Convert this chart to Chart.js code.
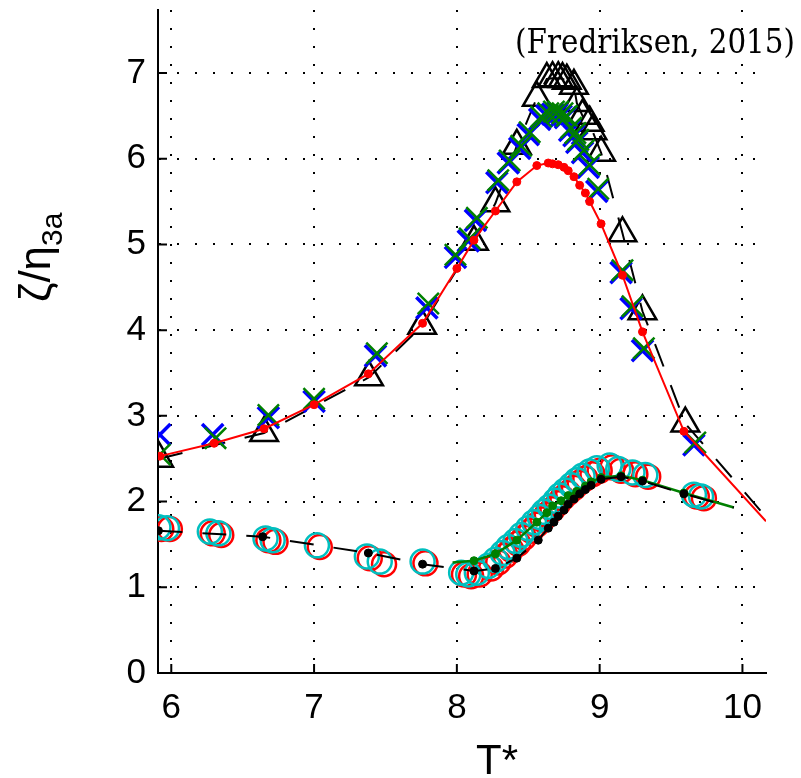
<!DOCTYPE html>
<html>
<head>
<meta charset="utf-8">
<script src="https://cdn.jsdelivr.net/npm/chart.js@4"></script>
<style>
  html, body { margin: 0; padding: 0; background: #fff; }
  canvas { display: block; }
</style>
</head>
<body>
<canvas id="chart" width="801" height="778" style="width:801px;height:778px"></canvas>
<script>
// Axis setup
const xTicks = [6, 7, 8, 9, 10];
const yTicks = [0, 1, 2, 3, 4, 5, 6, 7];
const xRange = [5.907, 10.165];
const yRange = [0, 7.735];
const xTitle = 'T*';
const yTitleMain = 'ζ/η';
const yTitleSub = '3a';
const citation = '(Fredriksen, 2015)';

// Upper curves
// red solid line with dots (last point is line end only)
const redT = [5.92, 6.30, 6.65, 7.00, 7.38, 7.76, 8.00, 8.12, 8.27, 8.42, 8.56, 8.64, 8.67, 8.71, 8.75, 8.78, 8.82, 8.86, 8.90, 8.93, 9.01, 9.16, 9.30, 9.59, 10.165];
const redY = [2.53, 2.68, 2.85, 3.13, 3.49, 4.08, 4.72, 5.05, 5.39, 5.73, 5.92, 5.95, 5.94, 5.93, 5.90, 5.86, 5.79, 5.69, 5.60, 5.50, 5.24, 4.64, 3.98, 2.82, 1.77];

// black dashed line with open triangles (last point is line end only)
const triT = [5.915, 6.65, 7.385, 7.757, 8.12, 8.27, 8.42, 8.56, 8.63, 8.67, 8.71, 8.74, 8.77, 8.82, 8.84, 8.88, 8.93, 8.95, 9.01, 9.16, 9.30, 9.60, 10.165];
const triY = [2.50, 2.80, 3.45, 4.05, 5.03, 5.48, 6.15, 6.71, 6.93, 6.94, 6.94, 6.93, 6.91, 6.85, 6.65, 6.50, 6.42, 6.32, 6.07, 5.13, 4.22, 2.91, 1.82];

// blue crosses
const blueT = [5.92, 6.29, 6.68, 7.00, 7.43, 7.79, 7.99, 8.08, 8.13, 8.28, 8.36, 8.44, 8.50, 8.58, 8.63, 8.67, 8.70, 8.73, 8.76, 8.79, 8.82, 8.84, 8.88, 8.92, 8.98, 9.15, 9.22, 9.30, 9.66];
const blueY = [2.78, 2.78, 2.98, 3.17, 3.70, 4.26, 4.85, 5.04, 5.28, 5.72, 5.95, 6.12, 6.28, 6.46, 6.50, 6.52, 6.52, 6.50, 6.48, 6.33, 6.27, 6.19, 6.07, 5.90, 5.62, 4.67, 4.25, 3.76, 2.66];

// green crosses
const greenT = [5.92, 6.31, 6.68, 7.00, 7.44, 7.80, 7.99, 8.09, 8.14, 8.29, 8.37, 8.45, 8.51, 8.59, 8.64, 8.68, 8.71, 8.74, 8.77, 8.80, 8.83, 8.85, 8.89, 8.93, 8.99, 9.16, 9.23, 9.31, 9.67];
const greenY = [2.55, 2.74, 3.01, 3.20, 3.73, 4.31, 4.88, 5.07, 5.31, 5.75, 5.98, 6.15, 6.31, 6.49, 6.53, 6.55, 6.55, 6.53, 6.50, 6.36, 6.30, 6.22, 6.10, 5.93, 5.65, 4.70, 4.28, 3.79, 2.69];

// Lower curves
// open circles
const cyanT = [5.91, 5.97, 6.27, 6.33, 6.66, 6.71, 7.02, 7.37, 7.46, 7.76, 8.03, 8.08, 8.14, 8.22, 8.27, 8.32, 8.36, 8.41, 8.45, 8.50, 8.54, 8.58, 8.61, 8.65, 8.69, 8.72, 8.76, 8.80, 8.84, 8.88, 8.93, 8.98, 9.07, 9.13, 9.23, 9.32, 9.66, 9.71];
const cyanY = [1.70, 1.69, 1.65, 1.63, 1.57, 1.55, 1.49, 1.36, 1.30, 1.30, 1.17, 1.15, 1.17, 1.25, 1.32, 1.40, 1.47, 1.54, 1.61, 1.69, 1.76, 1.82, 1.88, 1.94, 2.01, 2.07, 2.13, 2.19, 2.25, 2.30, 2.35, 2.39, 2.42, 2.38, 2.34, 2.31, 2.08, 2.06];
const redCircT = [5.93, 5.99, 6.29, 6.35, 6.68, 6.73, 7.04, 7.39, 7.49, 7.78, 8.05, 8.10, 8.16, 8.24, 8.29, 8.34, 8.38, 8.43, 8.47, 8.52, 8.56, 8.60, 8.63, 8.67, 8.71, 8.74, 8.78, 8.82, 8.86, 8.90, 8.95, 9.00, 9.09, 9.15, 9.25, 9.34, 9.68, 9.73];
const redCircY = [1.68, 1.68, 1.63, 1.61, 1.55, 1.53, 1.47, 1.34, 1.27, 1.28, 1.15, 1.13, 1.15, 1.22, 1.29, 1.37, 1.44, 1.51, 1.58, 1.66, 1.73, 1.79, 1.85, 1.91, 1.98, 2.04, 2.10, 2.16, 2.22, 2.27, 2.32, 2.36, 2.40, 2.36, 2.32, 2.29, 2.06, 2.04];

// black dots, dashed line (last point is line end only)
const dotT = [5.91, 6.64, 7.38, 7.76, 8.12, 8.27, 8.42, 8.57, 8.64, 8.68, 8.71, 8.75, 8.78, 8.82, 8.86, 8.90, 8.94, 9.01, 9.15, 9.30, 9.59, 9.94];
const dotY = [1.66, 1.59, 1.40, 1.27, 1.19, 1.22, 1.34, 1.55, 1.69, 1.76, 1.83, 1.90, 1.97, 2.03, 2.09, 2.14, 2.19, 2.26, 2.29, 2.24, 2.09, 1.93];

// green dots, solid line (first and last points are line ends only)
const gDotT = [7.97, 8.12, 8.27, 8.42, 8.56, 8.63, 8.67, 8.73, 8.78, 8.84, 8.90, 8.94, 9.01, 9.15, 9.30, 9.59, 9.94];
const gDotY = [1.29, 1.31, 1.39, 1.55, 1.76, 1.87, 1.95, 2.01, 2.07, 2.12, 2.18, 2.23, 2.28, 2.30, 2.25, 2.10, 1.93];

const FONT = "'Liberation Sans', Arial, sans-serif";

function pts(xs, ys) {
    return xs.map((x, i) => ({ x, y: ys[i] }));
}

// no marker on the trailing line-end point
function lastHidden(r, len) {
    return c => (c.dataIndex === len - 1 ? 0 : r);
}

const decor = {
    id: 'decor',
    afterDraw(chart) {
        const { ctx, chartArea: a, scales: { x, y } } = chart;
        ctx.save();
        // inward major ticks
        ctx.strokeStyle = '#000';
        ctx.lineWidth = 2;
        ctx.beginPath();
        xTicks.forEach(v => {
            const px = x.getPixelForValue(v);
            ctx.moveTo(px, a.bottom);
            ctx.lineTo(px, a.bottom - 9);
        });
        yTicks.forEach(v => {
            const py = y.getPixelForValue(v);
            ctx.moveTo(a.left, py);
            ctx.lineTo(a.left + 9, py);
        });
        ctx.stroke();

        ctx.fillStyle = '#000';
        // x title
        ctx.font = `42px ${FONT}`;
        ctx.textAlign = 'center';
        ctx.textBaseline = 'alphabetic';
        ctx.fillText(xTitle, 497, 774);

        // citation
        let size = 26;
        ctx.font = `${size}px 'DejaVu Serif', serif`;
        const w0 = ctx.measureText(citation).width;
        size = size * 280 / w0;
        ctx.font = `${size}px 'DejaVu Serif', serif`;
        ctx.textAlign = 'right';
        ctx.save();
        ctx.translate(795, 53);
        ctx.scale(1, 1.12);
        ctx.fillText(citation, 0, 0);
        ctx.restore();

        // y title with subscript
        ctx.translate(50, 302);
        ctx.rotate(-Math.PI / 2);
        ctx.textAlign = 'left';
        ctx.font = `44px ${FONT}`;
        ctx.fillText(yTitleMain, 0, 0);
        const w = ctx.measureText(yTitleMain).width;
        ctx.font = `30px ${FONT}`;
        ctx.fillText(yTitleSub, w, 12);
        ctx.restore();
    }
};

new Chart(document.getElementById('chart'), {
    type: 'scatter',
    data: {
        datasets: [
            {   // lower black dots + dashed line
                data: pts(dotT, dotY), showLine: true, order: 1,
                borderColor: '#000', borderWidth: 2, borderDash: [24, 20],
                pointRadius: lastHidden(4, dotT.length), pointBackgroundColor: '#000', pointBorderColor: '#000', pointBorderWidth: 1
            },
            {   // lower green dots + line
                data: pts(gDotT, gDotY), showLine: true, order: 2,
                borderColor: '#008000', borderWidth: 2.5,
                pointRadius: c => (c.dataIndex === 0 || c.dataIndex === gDotT.length - 1 ? 0 : 4),
                pointBackgroundColor: '#008000', pointBorderColor: '#008000', pointBorderWidth: 1
            },
            {   // cyan circles
                data: pts(cyanT, cyanY), order: 3,
                pointStyle: 'circle', pointRadius: 12, pointBorderWidth: 2.5,
                pointBorderColor: '#00bfbf', pointBackgroundColor: 'rgba(0,0,0,0)'
            },
            {   // red circles
                data: pts(redCircT, redCircY), order: 4,
                pointStyle: 'circle', pointRadius: 12, pointBorderWidth: 2.5,
                pointBorderColor: '#ff0000', pointBackgroundColor: 'rgba(0,0,0,0)'
            },
            {   // upper red line with dots
                data: pts(redT, redY), showLine: true, order: 5,
                borderColor: '#ff0000', borderWidth: 2,
                pointRadius: lastHidden(4, redT.length), pointBackgroundColor: '#ff0000', pointBorderColor: '#ff0000', pointBorderWidth: 1
            },
            {   // green crosses
                data: pts(greenT, greenY), order: 6,
                pointStyle: 'crossRot', pointRadius: 15, pointBorderWidth: 2.5,
                pointBorderColor: '#008000'
            },
            {   // blue crosses
                data: pts(blueT, blueY), order: 7,
                pointStyle: 'crossRot', pointRadius: 15, pointBorderWidth: 3.5,
                pointBorderColor: '#0000ff'
            },
            {   // triangles + dashed line
                data: pts(triT, triY), showLine: true, order: 8,
                borderColor: '#000', borderWidth: 2, borderDash: [24, 20],
                pointStyle: 'triangle', pointRadius: lastHidden(16, triT.length), pointBorderWidth: 2.5,
                pointBorderColor: '#000', pointBackgroundColor: 'rgba(0,0,0,0)'
            }
        ]
    },
    options: {
        responsive: false,
        animation: false,
        devicePixelRatio: 1,
        layout: { autoPadding: false, padding: { top: 10, right: 35, left: 0, bottom: 0 } },
        plugins: { legend: { display: false }, tooltip: { enabled: false } },
        scales: {
            x: {
                type: 'linear', min: xRange[0], max: xRange[1],
                afterBuildTicks: s => { s.ticks = xTicks.map(v => ({ value: v })); },
                afterFit: s => { s.height = 105; s.paddingLeft = 0; s.paddingRight = 0; },
                ticks: { font: { family: FONT, size: 35 }, color: '#000', padding: 14, maxRotation: 0 },
                grid: { color: '#000', lineWidth: 2, drawTicks: false },
                border: { color: '#000', width: 2, dash: [2, 16] }
            },
            y: {
                type: 'linear', min: yRange[0], max: yRange[1],
                afterBuildTicks: s => { s.ticks = yTicks.map(v => ({ value: v })); },
                afterFit: s => { s.width = 158; s.paddingTop = 0; s.paddingBottom = 0; },
                ticks: { font: { family: FONT, size: 35 }, color: '#000', padding: 12 },
                grid: { color: '#000', lineWidth: 2, drawTicks: false },
                border: { color: '#000', width: 2, dash: [2, 16] }
            }
        }
    },
    plugins: [decor]
});
</script>
</body>
</html>
